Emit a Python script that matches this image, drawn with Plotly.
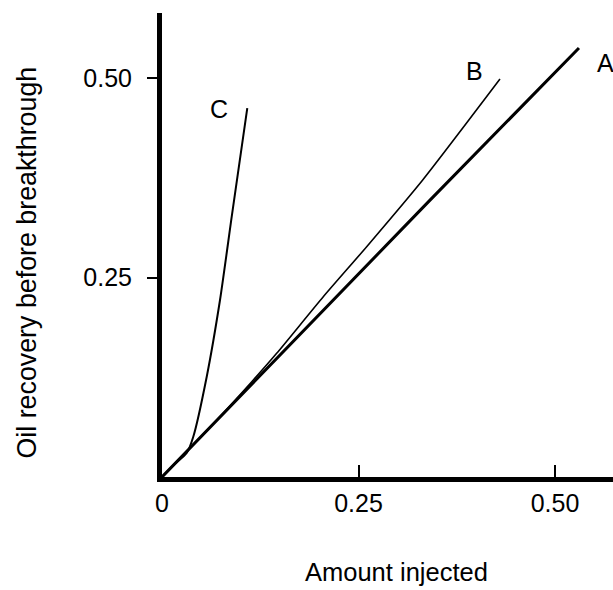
import plotly.graph_objects as go

# Curve data (amount injected vs oil recovery before breakthrough)
a_x = [0.0, 0.341, 0.5305]
a_y = [0.0, 0.347, 0.5376]

b_x = [0.0, 0.06, 0.1162, 0.1459, 0.2052, 0.2604, 0.3317, 0.430]
b_y = [0.0, 0.0612, 0.1216, 0.155, 0.2259, 0.2886, 0.3722, 0.4987]

c_x = [0.0, 0.015, 0.0314, 0.0398, 0.0569, 0.0738, 0.0887, 0.1085]
c_y = [0.0, 0.0152, 0.0301, 0.0505, 0.1257, 0.2218, 0.3262, 0.4624]

labels = ["A", "B", "C"]
label_x = [0.5642, 0.3976, 0.0719]
label_y = [0.5194, 0.5088, 0.4618]

x_ticks = [0, 0.25, 0.5]
x_ticktext = ["0", "0.25", "0.50"]
y_ticks = [0.25, 0.5]
y_ticktext = ["0.25", "0.50"]

x_title = "Amount injected"
y_title = "Oil recovery before breakthrough"

FONT = "Liberation Sans, Arial, Helvetica, sans-serif"

fig = go.Figure()
fig.add_trace(go.Scatter(x=a_x, y=a_y, mode="lines",
                         line=dict(color="black", width=3), name="A"))
fig.add_trace(go.Scatter(x=b_x, y=b_y, mode="lines",
                         line=dict(color="black", width=1.6, shape="spline", smoothing=0.6), name="B"))
fig.add_trace(go.Scatter(x=c_x, y=c_y, mode="lines",
                         line=dict(color="black", width=2, shape="spline", smoothing=0.6), name="C"))

for t, lx, ly in zip(labels, label_x, label_y):
    fig.add_annotation(x=lx, y=ly, text=t, showarrow=False,
                       font=dict(family=FONT, size=25, color="black"))

# axis titles
fig.add_annotation(xref="paper", yref="paper", x=0.52, y=-0.2058,
                   xanchor="center", yanchor="middle", text=x_title, showarrow=False,
                   font=dict(family=FONT, size=25.5, color="black"))
fig.add_annotation(xref="paper", yref="paper", x=-0.2993, y=0.4623,
                   xanchor="center", yanchor="middle", text=y_title, showarrow=False,
                   textangle=-90, font=dict(family=FONT, size=26.8, color="black"))

fig.update_layout(
    width=613, height=590,
    margin=dict(l=162, r=0, t=13, b=113),
    paper_bgcolor="white", plot_bgcolor="white",
    showlegend=False,
    hovermode=False,
    font=dict(family=FONT, size=25, color="black"),
    xaxis=dict(range=[0, 0.5738], tickvals=x_ticks, ticktext=x_ticktext,
               showgrid=False, zeroline=False, showline=True, linewidth=5, linecolor="black",
               ticks="inside", ticklen=12, tickwidth=2, tickcolor="black",
               ticklabelstandoff=0),
    yaxis=dict(range=[0, 0.5815], tickvals=y_ticks, ticktext=y_ticktext,
               showgrid=False, zeroline=False, showline=True, linewidth=5, linecolor="black",
               ticks="outside", ticklen=10, tickwidth=2, tickcolor="black",
               ticklabelstandoff=10),
)

fig.write_html("out.html",
               config={"displayModeBar": False},
               post_script="document.body.style.margin='0';document.body.style.overflow='hidden';")
